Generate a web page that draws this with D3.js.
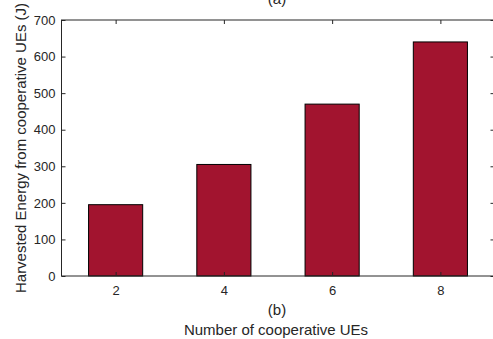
<!DOCTYPE html>
<html>
<head>
<meta charset="utf-8">
<script src="https://cdn.jsdelivr.net/npm/d3@7"></script>
<style>
  body { margin: 0; background: #fff; }
  text { font-family: "Liberation Sans", Arial, sans-serif; fill: #262626; }
</style>
</head>
<body>
<div id="chart"></div>
<script>
// Harvested energy from cooperative UEs vs number of cooperative UEs
var ues = [2, 4, 6, 8];
var energy = [195, 305, 470, 640];
var yTicks = [0, 100, 200, 300, 400, 500, 600, 700];

var width = 493, height = 339;
var margin = { top: 20, left: 61.5, right: -1.5, bottom: 63 };

var svg = d3.select('#chart').append('svg')
    .attr('width', width)
    .attr('height', height);

var w = width - margin.left - margin.right;
var h = height - margin.top - margin.bottom;

var g = svg.append('g')
    .attr('transform', 'translate(' + margin.left + ',' + margin.top + ')');

var x = d3.scaleLinear().domain([1, 9]).range([0, w]);
var y = d3.scaleLinear().domain([0, 700]).range([h, 0]);

var barColor = '#A2142F';
var axisColor = '#262626';

// bars
g.selectAll('.bar')
    .data(ues)
    .enter()
    .append('rect')
    .attr('class', 'bar')
    .attr('x', function(d) { return x(d - 0.5); })
    .attr('width', x(1.5) - x(0.5))
    .attr('y', function(d, i) { return y(energy[i]); })
    .attr('height', function(d, i) { return h - y(energy[i]); })
    .attr('fill', barColor)
    .attr('stroke', '#000')
    .attr('stroke-width', 1);

// box
g.append('rect')
    .attr('width', w)
    .attr('height', h)
    .attr('fill', 'none')
    .attr('stroke', axisColor)
    .attr('stroke-width', 1);

// y axis (left), ticks inward
var yAxis = d3.axisLeft(y).tickValues(yTicks).tickSizeInner(-4).tickSizeOuter(0).tickPadding(6);
g.append('g').attr('class', 'axis axis-y').call(yAxis)
    .call(function(s) {
      s.select('.domain').remove();
      s.selectAll('line').attr('stroke', axisColor);
      s.selectAll('text').style('font-size', '13px').style('fill', axisColor);
    });

// right ticks
g.append('g').attr('transform', 'translate(' + w + ',0)')
    .call(d3.axisRight(y).tickValues(yTicks).tickSizeInner(-4).tickSizeOuter(0).tickFormat(''))
    .call(function(s) {
      s.select('.domain').remove();
      s.selectAll('line').attr('stroke', axisColor);
    });

// x axis (bottom)
var xAxis = d3.axisBottom(x).tickValues(ues).tickSizeInner(-4).tickSizeOuter(0).tickPadding(10);
g.append('g').attr('class', 'axis axis-x')
    .attr('transform', 'translate(0,' + h + ')')
    .call(xAxis)
    .call(function(s) {
      s.select('.domain').remove();
      s.selectAll('line').attr('stroke', axisColor);
      s.selectAll('text').style('font-size', '13px').style('fill', axisColor);
    });

// top ticks
g.append('g')
    .call(d3.axisTop(x).tickValues(ues).tickSizeInner(-4).tickSizeOuter(0).tickFormat(''))
    .call(function(s) {
      s.select('.domain').remove();
      s.selectAll('line').attr('stroke', axisColor);
    });

// labels
svg.append('text')
    .attr('x', 277).attr('y', 4)
    .attr('text-anchor', 'middle')
    .style('font-size', '15px')
    .text('(a)');

svg.append('text')
    .attr('x', 277).attr('y', 315)
    .attr('text-anchor', 'middle')
    .style('font-size', '15px')
    .text('(b)');

svg.append('text')
    .attr('x', 276).attr('y', 335)
    .attr('text-anchor', 'middle')
    .style('font-size', '15px')
    .text('Number of cooperative UEs');

svg.append('text')
    .attr('transform', 'translate(26,' + 148 + ') rotate(-90)')
    .attr('text-anchor', 'middle')
    .style('font-size', '15px')
    .text('Harvested Energy from cooperative UEs (J)');
</script>
</body>
</html>
